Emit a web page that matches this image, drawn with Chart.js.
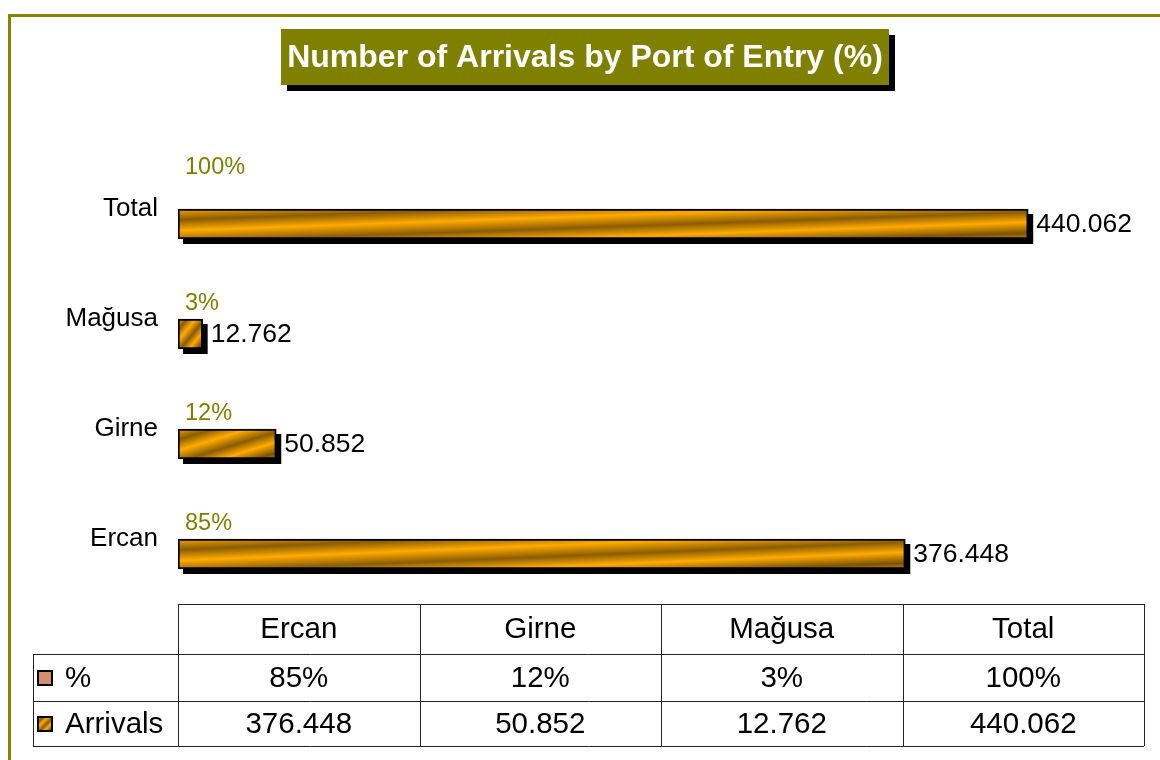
<!DOCTYPE html>
<html>
<head>
<meta charset="utf-8">
<script src="https://cdn.jsdelivr.net/npm/chart.js@4"></script>
<style>
	html, body { margin: 0; padding: 0; background: #fff; }
</style>
</head>
<body>
<canvas id="myChart" width="1160" height="760"></canvas>
<script>
/* chart data */
var categories = ['Ercan', 'Girne', 'Mağusa', 'Total'];
var percentValues = [85, 12, 3, 100];
var arrivalValues = [376448, 50852, 12762, 440062];
var seriesNames = ['%', 'Arrivals'];
var titleText = 'Number of Arrivals by Port of Entry (%)';
var xMax = 500000;

var fontFamily = "'Liberation Sans', Arial, sans-serif";
var olive = '#858500';
var pctColor = '#d0906c';

// 376448 -> "376.448"
function fmt(n){
	return String(n).replace(/\B(?=(\d{3})+(?!\d))/g, '.');
}

// diagonal orange / brown stripes, stretched to the box
function stripeFill(ctx, x0, y0, w, h){
	var L2 = w * w + h * h;
	var g = ctx.createLinearGradient(x0, y0, x0 + 2 * w * h * h / L2, y0 + 2 * w * w * h / L2);
	g.addColorStop(0, '#f5a300');
	g.addColorStop(0.18, '#8a5d00');
	g.addColorStop(0.36, '#ffab00');
	g.addColorStop(0.55, '#8a5d00');
	g.addColorStop(0.72, '#ffab00');
	g.addColorStop(0.9, '#7a5200');
	g.addColorStop(1, '#c88400');
	return g;
}

/* frame + title box */
var framePlugin = {
	id: 'frame',
	beforeDraw: function(chart){
		var ctx = chart.ctx;
		ctx.save();
		ctx.fillStyle = olive;
		ctx.fillRect(8, 14, chart.width - 8, 3);
		ctx.fillRect(8, 14, 3, chart.height - 14);

		ctx.font = 'bold 32px ' + fontFamily;
		var tw = ctx.measureText(titleText).width;
		var cx = (chart.width + 10) / 2;
		var bx = Math.round(cx - tw / 2 - 6), by = 29, bw = Math.round(tw + 12), bh = 56;
		ctx.fillStyle = '#000';
		ctx.fillRect(bx + 6, by + 6, bw, bh);
		ctx.fillStyle = '#808000';
		ctx.fillRect(bx, by, bw, bh);
		ctx.fillStyle = '#fff';
		ctx.textAlign = 'center';
		ctx.textBaseline = 'middle';
		ctx.fillText(titleText, cx, by + bh / 2 + 1);
		ctx.restore();
	}
};

/* gradient + drop shadow on the arrivals bars */
var barStylePlugin = {
	id: 'barStyle',
	beforeDatasetDraw: function(chart, args){
		if(args.index !== 1) return;
		var ctx = chart.ctx;
		ctx.save();
		ctx.fillStyle = '#000';
		args.meta.data.forEach(function(el){
			var p = el.getProps(['x', 'y', 'base', 'height'], true);
			var top = p.y - p.height / 2;
			ctx.fillRect(p.base + 5, top + 5, p.x - p.base, p.height);
			el.options.backgroundColor = stripeFill(ctx, p.base, top, p.x - p.base, p.height);
		});
		ctx.restore();
	}
};

/* value labels */
var labelPlugin = {
	id: 'labels',
	afterDatasetsDraw: function(chart){
		var ctx = chart.ctx;
		var pm = chart.getDatasetMeta(0), am = chart.getDatasetMeta(1);
		ctx.save();
		ctx.textBaseline = 'middle';
		ctx.textAlign = 'left';
		ctx.font = '26.5px ' + fontFamily;
		ctx.fillStyle = '#000';
		am.data.forEach(function(el, i){
			ctx.fillText(fmt(arrivalValues[i]), el.x + 8, el.y + 1);
		});
		ctx.font = '23.5px ' + fontFamily;
		ctx.fillStyle = '#808000';
		pm.data.forEach(function(el, i){
			var y = el.y;
			if(categories[i] === 'Total') y -= 26; // sits higher in the original
			ctx.fillText(percentValues[i] + '%', el.base + 7, y);
		});
		ctx.restore();
	}
};

/* data table under the plot */
var tablePlugin = {
	id: 'dataTable',
	afterDraw: function(chart){
		var ctx = chart.ctx, area = chart.chartArea;
		var left = area.left, right = area.right, n = categories.length;
		var colW = (right - left) / n;
		var keyLeft = 33;
		var y0 = area.bottom + 10, y1 = area.bottom + 60, y2 = area.bottom + 107, y3 = area.bottom + 152;
		ctx.save();
		ctx.strokeStyle = '#222';
		ctx.lineWidth = 1;
		ctx.beginPath();
		ctx.moveTo(left, y0 + 0.5); ctx.lineTo(right, y0 + 0.5);
		[y1, y2, y3].forEach(function(y){
			ctx.moveTo(keyLeft, y + 0.5); ctx.lineTo(right, y + 0.5);
		});
		ctx.moveTo(keyLeft + 0.5, y1); ctx.lineTo(keyLeft + 0.5, y3);
		for(var c = 0; c <= n; c++){
			var x = Math.round(left + c * colW) + 0.5;
			ctx.moveTo(x, y0); ctx.lineTo(x, y3);
		}
		ctx.stroke();

		ctx.font = '29.5px ' + fontFamily;
		ctx.fillStyle = '#000';
		ctx.textBaseline = 'middle';
		ctx.textAlign = 'center';
		categories.forEach(function(cat, i){
			var cx = left + (i + 0.5) * colW;
			ctx.fillText(cat, cx, (y0 + y1) / 2 + 1);
			ctx.fillText(percentValues[i] + '%', cx, (y1 + y2) / 2 + 1);
			ctx.fillText(fmt(arrivalValues[i]), cx, (y2 + y3) / 2 + 1);
		});

		// legend keys
		ctx.textAlign = 'left';
		ctx.fillText(seriesNames[0], 65, (y1 + y2) / 2 + 1);
		ctx.fillText(seriesNames[1], 65, (y2 + y3) / 2 + 1);
		var ky1 = Math.round((y1 + y2) / 2) - 7, ky2 = Math.round((y2 + y3) / 2) - 7;
		ctx.fillStyle = pctColor;
		ctx.fillRect(38, ky1, 14, 14);
		ctx.fillStyle = stripeFill(ctx, 38, ky2, 14, 14);
		ctx.fillRect(38, ky2, 14, 14);
		ctx.lineWidth = 2;
		ctx.strokeStyle = '#000';
		ctx.strokeRect(38, ky1, 14, 14);
		ctx.strokeRect(38, ky2, 14, 14);
		ctx.restore();
	}
};

var canvas = document.getElementById('myChart');
var ctx = canvas.getContext('2d');

var plot = new Chart(ctx, {
	type: 'bar',
	data: {
		labels: categories,
		datasets: [{
			label: seriesNames[0],
			data: percentValues,
			backgroundColor: 'rgba(0,0,0,0)',
			borderWidth: 0,
			barThickness: 30
		}, {
			label: seriesNames[1],
			data: arrivalValues,
			backgroundColor: function(){ return '#f5a300'; },
			borderColor: '#000',
			borderWidth: 2,
			borderSkipped: false,
			barThickness: 30
		}]
	},
	options: {
		indexAxis: 'y',
		responsive: false,
		animation: false,
		devicePixelRatio: 1,
		layout: { padding: { left: 0, top: 154, right: 16, bottom: 166 } },
		plugins: {
			legend: { display: false },
			title: { display: false },
			tooltip: { enabled: false }
		},
		scales: {
			x: { min: 0, max: xMax, display: false },
			y: {
				reverse: true,
				grid: { display: false },
				border: { display: false },
				ticks: { color: '#000', padding: 12, font: { family: fontFamily, size: 26 } },
				afterFit: function(s){ s.width = 178; }
			}
		}
	},
	plugins: [framePlugin, barStylePlugin, labelPlugin, tablePlugin]
});
</script>
</body>
</html>
